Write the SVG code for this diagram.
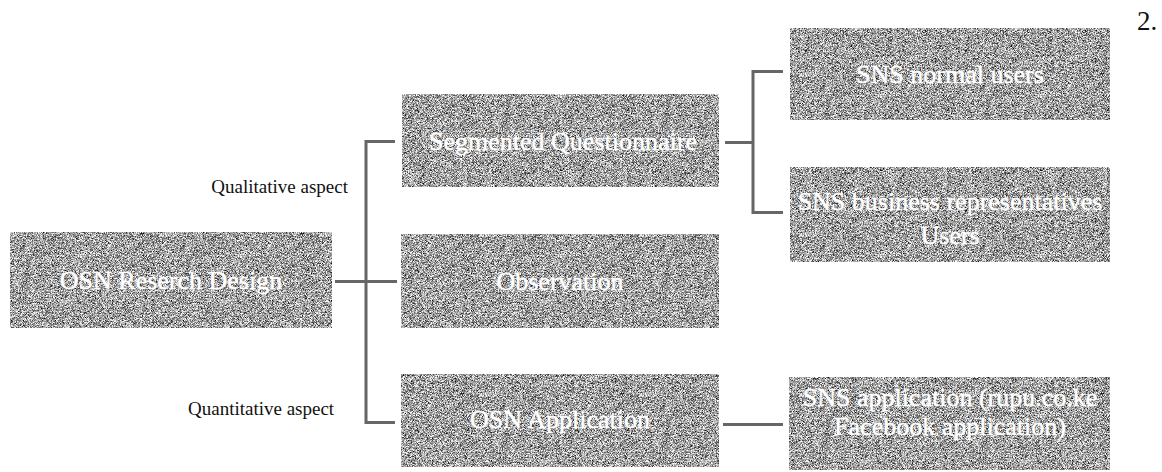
<svg xmlns="http://www.w3.org/2000/svg" width="1162" height="472" viewBox="0 0 1162 472">
  <style>
    .box { fill: #9a9a9a; }
    .label { font-family: "Liberation Serif", "Times New Roman", serif; font-size: 26px; fill: #ffffff; stroke: #ffffff; stroke-width: 0.4; text-anchor: middle; }
    .note { font-family: "Liberation Serif", "Times New Roman", serif; font-size: 19px; fill: #111111; }
    .wire { fill: none; stroke: #666666; stroke-width: 3; }
  </style>
  <defs>
    <!-- fine speckled grey texture for the node boxes -->
    <filter id="grain" x="0" y="0" width="1" height="1" color-interpolation-filters="sRGB">
      <feTurbulence type="fractalNoise" baseFrequency="1.6" numOctaves="2" seed="7" result="noise"/>
      <feColorMatrix in="noise" type="matrix" result="grey"
        values="1.9 0 0 0 -0.32
                1.9 0 0 0 -0.32
                1.9 0 0 0 -0.32
                0 0 0 0 1"/>
      <feComposite in="grey" in2="SourceGraphic" operator="in"/>
    </filter>
  </defs>

  <rect width="1162" height="472" fill="#ffffff"/>

  <!-- connectors -->
  <g id="connectors">
    <path class="wire" d="M335 281.5 H397"/>
    <path class="wire" d="M395 141.5 H366 V422.5 H395"/>
    <path class="wire" d="M725 142.5 H753"/>
    <path class="wire" d="M783 71.5 H753 V212.5 H783"/>
    <path class="wire" d="M723 424.5 H783"/>
  </g>

  <!-- side annotations -->
  <text class="note" x="348" y="193" text-anchor="end">Qualitative aspect</text>
  <text class="note" x="188" y="415">Quantitative aspect</text>
  <text x="1137" y="30" style="font-family: 'Liberation Serif', 'Times New Roman', serif; font-size: 27px; fill: #111111;">2.</text>

  <!-- nodes: box with its text drawn on top -->
  <g id="osn-research-design">
    <rect class="box" x="10" y="232" width="322" height="96" filter="url(#grain)"/>
    <text class="label" x="171" y="289">OSN Reserch Design</text>
  </g>

  <g id="segmented-questionnaire">
    <rect class="box" x="402" y="94" width="317" height="93" filter="url(#grain)"/>
    <text class="label" x="563" y="150">Segmented Questionnaire</text>
  </g>

  <g id="observation">
    <rect class="box" x="401" y="234" width="318" height="94" filter="url(#grain)"/>
    <text class="label" x="560" y="290">Observation</text>
  </g>

  <g id="osn-application">
    <rect class="box" x="401" y="374" width="318" height="93" filter="url(#grain)"/>
    <text class="label" x="560" y="428">OSN Application</text>
  </g>

  <g id="sns-normal-users">
    <rect class="box" x="790" y="28" width="320" height="92" filter="url(#grain)"/>
    <text class="label" x="950" y="83">SNS normal users</text>
  </g>

  <g id="sns-business-users">
    <rect class="box" x="790" y="167" width="320" height="95" filter="url(#grain)"/>
    <text class="label" x="950" y="210">SNS business representatives</text>
    <text class="label" x="950" y="244">Users</text>
  </g>

  <g id="sns-application">
    <rect class="box" x="789" y="377" width="321" height="93" filter="url(#grain)"/>
    <text class="label" x="950" y="406">SNS application (rupu.co.ke</text>
    <text class="label" x="950" y="435">Facebook application)</text>
  </g>
</svg>
